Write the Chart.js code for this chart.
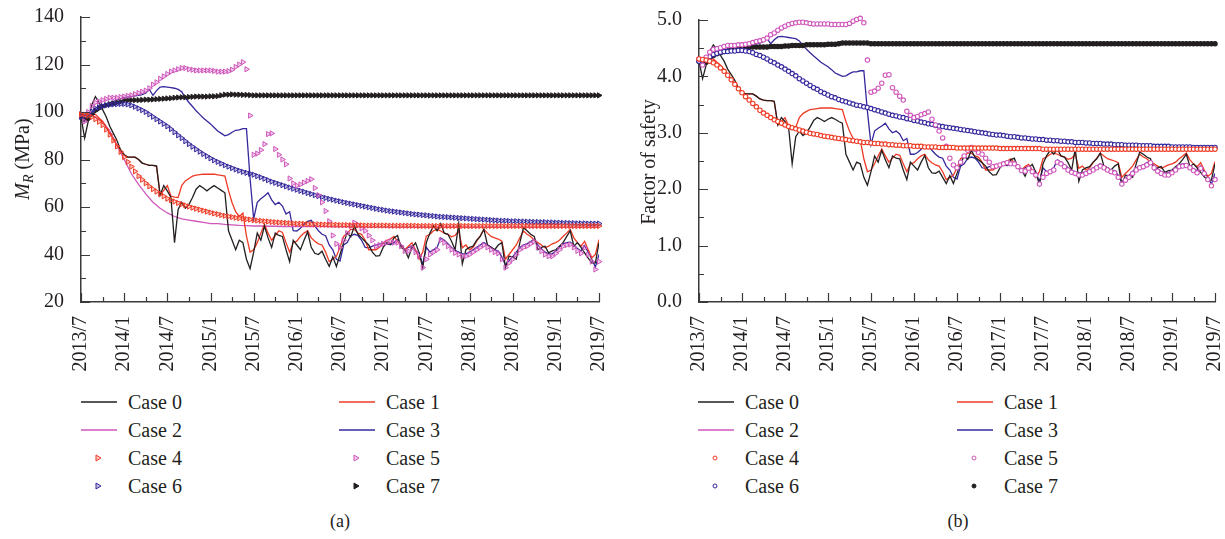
<!DOCTYPE html>
<html>
<head>
<meta charset="utf-8">
<script src="https://cdn.jsdelivr.net/npm/chart.js@4.4.1/dist/chart.umd.min.js"></script>
<style>
  html, body { margin: 0; padding: 0; background: #fff; }
  body { width: 1225px; height: 539px; position: relative; overflow: hidden; font-family: 'Liberation Serif', 'Times New Roman', serif; color: #231f20; }
  canvas.plot { position: absolute; top: 0; }
  .legend-item { position: absolute; height: 24px; display: flex; align-items: center; font-size: 20px; white-space: nowrap; }
  .legend-item canvas { margin-right: 11px; }
  .caption { position: absolute; top: 511px; width: 60px; text-align: center; font-size: 18px; }
</style>
</head>
<body>
<canvas id="chartA" class="plot" width="612" height="380" style="left:0px"></canvas>
<canvas id="chartB" class="plot" width="613" height="380" style="left:612px"></canvas>
<div class="caption" style="left:310px">(a)</div>
<div class="caption" style="left:928px">(b)</div>
<script>
// x positions in months, 0 = 2013/7 ... 72 = 2019/7
// case 2 is read monthly, everything else every half month
const months = Array.from({ length: 73 }, (_, i) => i);
const halfMonths = Array.from({ length: 145 }, (_, i) => i / 2);
const xTickLabels = ["2013/7", "2014/1", "2014/7", "2015/1", "2015/7", "2016/1", "2016/7",
  "2017/1", "2017/7", "2018/1", "2018/7", "2019/1", "2019/7"];
const caseNames = ["Case 0", "Case 1", "Case 2", "Case 3", "Case 4", "Case 5", "Case 6", "Case 7"];

// ---- panel (a): M_R (MPa) ----
const case0A = [
  98, 89, 96, 103, 106.5, 104, 101, 98, 94, 91, 88, 84,
  82, 81, 81, 81, 80, 78.5, 78, 77.5, 77.5, 77.3, 65, 69,
  66.8, 64, 45, 59, 62, 59.5, 61, 64, 67.5, 69, 68, 66.8,
  68, 69, 68, 67, 66, 50, 46, 42, 46, 45, 38, 34,
  41, 49, 46, 52, 47, 43, 49, 48, 47.6, 42, 37, 46,
  44, 42, 46, 49.5, 43, 40.5, 40, 41.4, 38, 35, 39, 35,
  40, 45, 49, 47.5, 52, 48.5, 47, 45.5, 44, 41, 39.3, 39.5,
  43, 45, 44.2, 47, 48, 43, 42, 38.6, 43, 44.9, 40.7, 34.4,
  45, 49, 52, 50, 53, 49, 48.5, 45.6, 42, 53, 36, 42,
  43, 43.5, 46, 47.6, 50.6, 44, 43, 42, 44, 45, 34.5, 39.3,
  39, 38, 45, 51.3, 50, 48.5, 47.6, 42, 43, 43.5, 40.7, 41.5,
  42, 43.5, 45, 47.5, 50, 43.5, 45, 43, 40.7, 38.5, 36.5, 36.5,
  45];
const case1A = [
  99, 98.5, 99, 99.5, 99, 97.5, 96, 93.5, 91, 88.5, 86, 84,
  82, 81, 81, 81, 80, 78.5, 78, 77.5, 77.5, 77, 65, 67,
  69, 64.6, 64.2, 64, 69, 71, 72, 73, 73.4, 73.6, 73.8, 73.8,
  73.8, 73.8, 73.5, 73.3, 73, 67, 61.8, 58, 56, 57.4, 47.7, 41,
  42, 45, 49, 52.7, 49, 46, 48, 50, 49.3, 45, 41, 45,
  45.6, 47.6, 49, 50, 47, 45.6, 44.5, 44, 41, 37, 38, 39.3,
  43, 47.6, 49, 50.6, 50.6, 49, 48.5, 46, 42, 42, 42, 43,
  44.9, 46, 46.5, 47.6, 45.6, 43.5, 42, 43.5, 44.9, 42, 38, 41,
  47.7, 48.5, 50, 50.6, 49.9, 49, 48.5, 47.5, 48, 49.9, 42.8, 44,
  42, 43, 45.6, 48, 50.6, 49, 47.6, 47, 46.5, 45.6, 38, 40,
  42, 44, 47, 49.9, 48.5, 47.6, 46, 45, 44, 42.8, 43.5, 44.5,
  45, 46, 47.6, 49, 50.6, 47, 45, 43.5, 45.6, 42, 38.6, 40,
  46.3];
const case2A = [99, 99, 98, 96, 92, 86, 80, 74, 69.5, 65.5, 62, 59.5, 57.5, 56, 55, 54.5, 54, 53.5, 53, 53, 52.7, 52.5, 52.3, 52.2, 52,
  52, 51.9, 51.9, 51.8, 51.8, 51.8, 51.7, 51.7, 51.7, 51.7, 51.6, 51.6, 51.6, 51.6, 51.6, 51.5, 51.5, 51.5, 51.5, 51.5, 51.5, 51.5, 51.5,
  51.5, 51.5, 51.5, 51.5, 51.5, 51.5, 51.5, 51.5, 51.5, 51.5, 51.5, 51.5, 51.5, 51.5, 51.5, 51.5, 51.5, 51.5, 51.5, 51.5, 51.5, 51.5, 51.5, 51.5, 51.5];
const case3A = [
  99, 96, 98.5, 100, 101.5, 102.5, 103, 103.5, 104, 104.5, 105, 105.5,
  106, 106.3, 106.5, 106.8, 107, 107.3, 108, 109.5, 107, 109, 110.5, 110.7,
  110.5, 110.3, 110, 109.5, 108.5, 106, 104, 102.3, 100.5, 99, 97.5, 96.2,
  95, 93.5, 92, 91, 90, 90.5, 91.5, 92.3, 92.5, 93, 93, 72,
  55, 62, 63.5, 64.6, 66, 63, 61, 62, 60.4, 57, 58, 50,
  49.9, 51, 52.7, 54, 54.4, 52, 50, 48.5, 47.9, 44, 42, 38,
  37.2, 44, 45, 47.9, 48.5, 48, 46, 43, 42.8, 43.5, 44, 44.5,
  44.9, 44.5, 44.2, 45, 46.3, 44, 42, 43, 43.5, 41.5, 40.7, 35.8,
  43, 41, 42, 43, 47, 46, 44.5, 43, 41.7, 41, 40.3, 40.3,
  41, 42, 43, 44, 45, 44, 43, 42, 41.5, 39, 35.5, 37.5,
  39, 41, 43, 44, 44.5, 45.5, 46.5, 44, 42.4, 41, 40.3, 40.3,
  41.5, 43, 44.5, 45, 45.2, 44, 42.5, 41.5, 43.8, 41, 38, 34.7,
  40];
const case4A = [
  99, 98.9, 98.5, 97.9, 97, 95.9, 94.5, 92.6, 90.5, 88, 85.5, 83.2,
  81, 79, 77, 75, 73, 71.5, 70, 68.7, 67.5, 66.5, 65.5, 64.5,
  63.5, 62.9, 62.3, 61.7, 61.2, 60.7, 60.2, 59.7, 59.3, 58.9, 58.5, 58.1,
  57.7, 57.3, 57, 56.6, 56.3, 56, 55.8, 55.5, 55.3, 55.1, 54.9, 54.7,
  54.5, 54.3, 54.2, 54, 53.9, 53.7, 53.6, 53.5, 53.4, 53.3, 53.2, 53.1,
  53, 53, 52.9, 52.8, 52.8, 52.7, 52.7, 52.6, 52.6, 52.5, 52.5, 52.5,
  52.4, 52.4, 52.4, 52.3, 52.3, 52.3, 52.3, 52.2, 52.2, 52.2, 52.2, 52.2,
  52.2, 52.2, 52.1, 52.1, 52.1, 52.1, 52.1, 52.1, 52.1, 52.1, 52, 52,
  52, 52, 52, 52, 52, 52, 52, 52, 52, 52, 52, 52,
  52, 52, 52, 52, 52, 52, 52, 52, 52, 52, 52, 52,
  52, 52, 52, 52, 52, 52, 52, 52, 52, 52, 52, 52,
  52, 52, 52, 52, 52, 52, 52, 52, 52, 52, 52, 52,
  52];
const case5A = [
  99, 96, 100, 102.5, 104, 104.5, 105, 105.5, 106, 106, 106, 106.3,
  106.5, 106.8, 107, 107.5, 108, 108.5, 109, 110, 111.5, 112.5, 114, 115,
  116, 117, 117.5, 118, 118.5, 118.5, 118, 117.8, 117.5, 117.5, 117.5, 117.5,
  117.5, 117.3, 117, 117, 117, 117.2, 117.8, 119, 120, 121, 118, 98.5,
  82, 82.5, 84, 86.5, 90.7, 91, 84.4, 82, 80, 78, 72, 70,
  69, 69.5, 70.3, 71, 71.7, 68, 65, 62, 58.3, 54, 48, 44.5,
  43, 46, 49, 52, 53.4, 52.5, 51, 50, 48, 46, 43.5, 44,
  44.5, 45, 45.5, 45, 45, 43.5, 41.5, 41.4, 42.8, 41, 39.3, 34.5,
  38, 40, 41, 42, 46, 45, 43.5, 42, 40.7, 40, 39.3, 39.3,
  40, 41, 42, 43, 44, 43, 42, 41, 40.5, 38, 34.5, 36.5,
  38, 40, 42, 43, 43.5, 44.5, 45.5, 43, 41.4, 40, 39.3, 39.3,
  40.5, 42, 43.5, 44, 44.2, 43, 41.5, 40.5, 42.8, 40, 37, 33.7,
  37];
const case6A = [
  98, 98.3, 99, 100.3, 101.5, 102, 102.5, 102.8, 103, 103.2, 103.3, 103.4,
  103.4, 103.2, 102.8, 102.2, 101.5, 100.8, 100, 99, 98, 97, 96, 95,
  94, 92.8, 91.5, 90.2, 89, 87.7, 86.5, 85.4, 84.3, 83.3, 82.3, 81.4,
  80.5, 79.7, 79, 78.3, 77.6, 77, 76.4, 75.8, 75.3, 74.8, 74.4, 74,
  73.6, 73, 72.5, 71.9, 71.3, 70.7, 70.2, 69.7, 69.2, 68.7, 68.2, 67.7,
  67.3, 66.8, 66.4, 65.9, 65.5, 65, 64.6, 64.2, 63.8, 63.4, 63.1, 62.7,
  62.4, 62, 61.7, 61.4, 61.1, 60.8, 60.5, 60.2, 59.9, 59.6, 59.3, 59,
  58.8, 58.5, 58.3, 58.1, 57.9, 57.7, 57.5, 57.3, 57.1, 56.9, 56.8, 56.6,
  56.5, 56.3, 56.2, 56, 55.9, 55.8, 55.7, 55.6, 55.5, 55.4, 55.3, 55.2,
  55.1, 55, 54.9, 54.8, 54.7, 54.6, 54.5, 54.4, 54.3, 54.2, 54.2, 54.1,
  54, 54, 53.9, 53.9, 53.8, 53.8, 53.7, 53.7, 53.6, 53.6, 53.5, 53.5,
  53.4, 53.4, 53.3, 53.3, 53.2, 53.2, 53.1, 53.1, 53.1, 53, 53, 53,
  53];
const case7A = [
  98.5, 97, 97, 99, 100.5, 101.5, 102.3, 102.8, 103.3, 103.6, 104, 104.3,
  105, 105, 105, 105, 105, 105.1, 105.2, 105.2, 105.3, 105.4, 105.5, 105.6,
  105.7, 105.8, 106, 106.1, 106.2, 106.2, 106.3, 106.4, 106.5, 106.5, 106.5, 106.5,
  106.6, 106.6, 106.7, 107, 107.3, 107.3, 107.4, 107.3, 107.3, 107.2, 107.2, 107.1,
  107, 107, 107, 107, 107, 107, 107, 107, 107, 107, 107, 107,
  107, 107, 107, 107, 107, 107, 107, 107, 107, 107, 107, 107,
  107, 107, 107, 107, 107, 107, 107, 107, 107, 107, 107, 107,
  107, 107, 107, 107, 107, 107, 107, 107, 107, 107, 107, 107,
  107, 107, 107, 107, 107, 107, 107, 107, 107, 107, 107, 107,
  107, 107, 107, 107, 107, 107, 107, 107, 107, 107, 107, 107,
  107, 107, 107, 107, 107, 107, 107, 107, 107, 107, 107, 107,
  107, 107, 107, 107, 107, 107, 107, 107, 107, 107, 107, 107,
  107];

// ---- panel (b): factor of safety ----
const case0B = [
  4.27, 3.96, 4.20, 4.44, 4.56, 4.48, 4.37, 4.27, 4.13, 4.03, 3.93, 3.79,
  3.72, 3.69, 3.69, 3.69, 3.65, 3.60, 3.58, 3.57, 3.57, 3.56, 3.14, 3.27,
  3.20, 3.10, 2.45, 2.93, 3.03, 2.95, 3.00, 3.10, 3.22, 3.27, 3.24, 3.20,
  3.24, 3.27, 3.24, 3.20, 3.17, 2.62, 2.48, 2.34, 2.48, 2.45, 2.21, 2.07,
  2.31, 2.59, 2.48, 2.69, 2.52, 2.38, 2.59, 2.55, 2.54, 2.34, 2.17, 2.48,
  2.41, 2.34, 2.48, 2.60, 2.38, 2.29, 2.28, 2.32, 2.21, 2.10, 2.24, 2.10,
  2.28, 2.45, 2.59, 2.53, 2.69, 2.57, 2.52, 2.47, 2.41, 2.31, 2.25, 2.26,
  2.38, 2.45, 2.42, 2.52, 2.55, 2.38, 2.34, 2.23, 2.38, 2.44, 2.30, 2.08,
  2.45, 2.59, 2.69, 2.62, 2.72, 2.59, 2.57, 2.47, 2.34, 2.72, 2.14, 2.34,
  2.38, 2.40, 2.48, 2.54, 2.64, 2.41, 2.38, 2.34, 2.41, 2.45, 2.09, 2.25,
  2.24, 2.21, 2.45, 2.66, 2.62, 2.57, 2.54, 2.34, 2.38, 2.40, 2.30, 2.33,
  2.34, 2.40, 2.45, 2.53, 2.62, 2.40, 2.45, 2.38, 2.30, 2.22, 2.16, 2.16,
  2.45];
const case1B = [
  4.31, 4.29, 4.31, 4.32, 4.31, 4.25, 4.20, 4.12, 4.03, 3.94, 3.86, 3.79,
  3.72, 3.69, 3.69, 3.69, 3.65, 3.60, 3.58, 3.57, 3.57, 3.55, 3.14, 3.20,
  3.27, 3.12, 3.11, 3.10, 3.27, 3.34, 3.38, 3.41, 3.42, 3.43, 3.44, 3.44,
  3.44, 3.44, 3.43, 3.42, 3.41, 3.20, 3.03, 2.90, 2.83, 2.87, 2.54, 2.31,
  2.34, 2.45, 2.59, 2.71, 2.59, 2.48, 2.55, 2.62, 2.60, 2.45, 2.31, 2.45,
  2.47, 2.54, 2.59, 2.62, 2.52, 2.47, 2.43, 2.41, 2.31, 2.17, 2.21, 2.25,
  2.38, 2.54, 2.59, 2.64, 2.64, 2.59, 2.57, 2.48, 2.34, 2.34, 2.34, 2.38,
  2.44, 2.48, 2.50, 2.54, 2.47, 2.40, 2.34, 2.40, 2.44, 2.34, 2.21, 2.31,
  2.54, 2.57, 2.62, 2.64, 2.62, 2.59, 2.57, 2.53, 2.55, 2.62, 2.37, 2.41,
  2.34, 2.38, 2.47, 2.55, 2.64, 2.59, 2.54, 2.52, 2.50, 2.47, 2.21, 2.28,
  2.34, 2.41, 2.52, 2.62, 2.57, 2.54, 2.48, 2.45, 2.41, 2.37, 2.40, 2.43,
  2.45, 2.48, 2.54, 2.59, 2.64, 2.52, 2.45, 2.40, 2.47, 2.34, 2.23, 2.28,
  2.49];
const case2B = [4.31, 4.29, 4.24, 4.15, 4.02, 3.86, 3.71, 3.58, 3.46, 3.35, 3.27, 3.20, 3.14, 3.09, 3.05, 3.01, 2.98, 2.95, 2.93, 2.91, 2.89, 2.87, 2.85, 2.83, 2.82,
  2.81, 2.80, 2.79, 2.78, 2.77, 2.76, 2.76, 2.75, 2.75, 2.74, 2.74, 2.73, 2.73, 2.73, 2.73, 2.73, 2.73, 2.72, 2.72, 2.72, 2.72, 2.72, 2.72,
  2.71, 2.71, 2.71, 2.71, 2.71, 2.71, 2.71, 2.71, 2.71, 2.71, 2.71, 2.71, 2.71, 2.71, 2.71, 2.71, 2.71, 2.71, 2.71, 2.71, 2.71, 2.71, 2.71, 2.71, 2.71];
const case3B = [
  4.31, 4.20, 4.29, 4.34, 4.39, 4.43, 4.44, 4.46, 4.48, 4.49, 4.51, 4.53,
  4.55, 4.56, 4.56, 4.57, 4.58, 4.59, 4.62, 4.67, 4.58, 4.65, 4.70, 4.71,
  4.70, 4.69, 4.68, 4.67, 4.63, 4.55, 4.48, 4.42, 4.36, 4.31, 4.25, 4.21,
  4.17, 4.12, 4.06, 4.03, 4.00, 4.01, 4.05, 4.08, 4.08, 4.10, 4.10, 3.38,
  2.79, 3.03, 3.08, 3.12, 3.17, 3.07, 3.00, 3.03, 2.98, 2.86, 2.90, 2.62,
  2.62, 2.65, 2.71, 2.76, 2.77, 2.69, 2.62, 2.57, 2.55, 2.41, 2.34, 2.21,
  2.18, 2.41, 2.45, 2.55, 2.57, 2.55, 2.48, 2.38, 2.37, 2.40, 2.41, 2.43,
  2.44, 2.43, 2.42, 2.45, 2.49, 2.41, 2.34, 2.38, 2.40, 2.33, 2.30, 2.13,
  2.38, 2.31, 2.34, 2.38, 2.52, 2.48, 2.43, 2.38, 2.33, 2.31, 2.29, 2.29,
  2.31, 2.34, 2.38, 2.41, 2.45, 2.41, 2.38, 2.34, 2.33, 2.24, 2.12, 2.19,
  2.24, 2.31, 2.38, 2.41, 2.43, 2.47, 2.50, 2.41, 2.36, 2.31, 2.29, 2.29,
  2.33, 2.38, 2.43, 2.45, 2.45, 2.41, 2.36, 2.33, 2.41, 2.31, 2.21, 2.09,
  2.28];
const case4B = [
  4.31, 4.30, 4.29, 4.27, 4.24, 4.20, 4.15, 4.09, 4.02, 3.94, 3.86, 3.78,
  3.71, 3.64, 3.58, 3.52, 3.46, 3.40, 3.35, 3.31, 3.27, 3.23, 3.20, 3.17,
  3.14, 3.11, 3.09, 3.07, 3.05, 3.03, 3.01, 2.99, 2.98, 2.97, 2.95, 2.94,
  2.93, 2.92, 2.91, 2.90, 2.89, 2.88, 2.87, 2.86, 2.85, 2.84, 2.83, 2.83,
  2.82, 2.81, 2.81, 2.80, 2.80, 2.79, 2.79, 2.78, 2.78, 2.77, 2.77, 2.77,
  2.76, 2.76, 2.76, 2.75, 2.75, 2.75, 2.75, 2.74, 2.74, 2.74, 2.74, 2.74,
  2.73, 2.73, 2.73, 2.73, 2.73, 2.73, 2.73, 2.73, 2.73, 2.73, 2.73, 2.73,
  2.72, 2.72, 2.72, 2.72, 2.72, 2.72, 2.72, 2.72, 2.72, 2.72, 2.72, 2.72,
  2.71, 2.71, 2.71, 2.71, 2.71, 2.71, 2.71, 2.71, 2.71, 2.71, 2.71, 2.71,
  2.71, 2.71, 2.71, 2.71, 2.71, 2.71, 2.71, 2.71, 2.71, 2.71, 2.71, 2.71,
  2.71, 2.71, 2.71, 2.71, 2.71, 2.71, 2.71, 2.71, 2.71, 2.71, 2.71, 2.71,
  2.71, 2.71, 2.71, 2.71, 2.71, 2.71, 2.71, 2.71, 2.71, 2.71, 2.71, 2.71,
  2.71];
const case5B = [
  4.31, 4.20, 4.34, 4.43, 4.48, 4.49, 4.51, 4.53, 4.55, 4.55, 4.55, 4.56,
  4.56, 4.57, 4.58, 4.60, 4.62, 4.63, 4.65, 4.68, 4.74, 4.77, 4.82, 4.86,
  4.89, 4.92, 4.94, 4.95, 4.96, 4.96, 4.95, 4.94, 4.93, 4.93, 4.93, 4.93,
  4.93, 4.92, 4.92, 4.92, 4.92, 4.92, 4.94, 4.98, 5.01, 5.03, 4.95, 4.29,
  3.72, 3.74, 3.79, 3.88, 4.02, 4.03, 3.80, 3.72, 3.65, 3.58, 3.38, 3.31,
  3.27, 3.29, 3.32, 3.34, 3.37, 3.24, 3.14, 3.03, 2.91, 2.76, 2.55, 2.43,
  2.38, 2.48, 2.59, 2.69, 2.74, 2.71, 2.65, 2.62, 2.55, 2.48, 2.40, 2.41,
  2.43, 2.45, 2.47, 2.45, 2.45, 2.40, 2.33, 2.32, 2.37, 2.31, 2.25, 2.09,
  2.21, 2.28, 2.31, 2.34, 2.48, 2.45, 2.40, 2.34, 2.30, 2.28, 2.25, 2.25,
  2.28, 2.31, 2.34, 2.38, 2.41, 2.38, 2.34, 2.31, 2.29, 2.21, 2.09, 2.16,
  2.21, 2.28, 2.34, 2.38, 2.40, 2.43, 2.47, 2.38, 2.32, 2.28, 2.25, 2.25,
  2.29, 2.34, 2.40, 2.41, 2.42, 2.38, 2.33, 2.29, 2.37, 2.28, 2.17, 2.06,
  2.17];
const case6B = [
  4.27, 4.28, 4.31, 4.35, 4.39, 4.41, 4.43, 4.44, 4.44, 4.45, 4.45, 4.46,
  4.46, 4.45, 4.44, 4.42, 4.39, 4.37, 4.34, 4.31, 4.27, 4.24, 4.20, 4.17,
  4.13, 4.09, 4.05, 4.01, 3.96, 3.92, 3.88, 3.84, 3.80, 3.77, 3.73, 3.70,
  3.67, 3.64, 3.62, 3.59, 3.57, 3.55, 3.53, 3.51, 3.49, 3.48, 3.46, 3.45,
  3.43, 3.41, 3.39, 3.37, 3.35, 3.33, 3.31, 3.30, 3.28, 3.27, 3.25, 3.24,
  3.22, 3.21, 3.19, 3.18, 3.16, 3.15, 3.13, 3.12, 3.11, 3.10, 3.09, 3.08,
  3.07, 3.06, 3.05, 3.04, 3.03, 3.02, 3.01, 3.00, 2.99, 2.98, 2.97, 2.96,
  2.96, 2.95, 2.94, 2.93, 2.93, 2.92, 2.91, 2.91, 2.90, 2.89, 2.89, 2.88,
  2.88, 2.87, 2.87, 2.86, 2.86, 2.85, 2.85, 2.84, 2.84, 2.83, 2.83, 2.83,
  2.82, 2.82, 2.81, 2.81, 2.81, 2.80, 2.80, 2.80, 2.79, 2.79, 2.79, 2.78,
  2.78, 2.78, 2.78, 2.77, 2.77, 2.77, 2.77, 2.76, 2.76, 2.76, 2.76, 2.76,
  2.75, 2.75, 2.75, 2.75, 2.75, 2.75, 2.74, 2.74, 2.74, 2.74, 2.74, 2.74,
  2.74];
const case7B = [
  4.27, 4.22, 4.25, 4.33, 4.37, 4.40, 4.42, 4.44, 4.45, 4.47, 4.48, 4.49,
  4.51, 4.51, 4.52, 4.52, 4.52, 4.52, 4.52, 4.52, 4.53, 4.53, 4.53, 4.53,
  4.54, 4.54, 4.55, 4.55, 4.55, 4.55, 4.56, 4.56, 4.56, 4.56, 4.56, 4.56,
  4.57, 4.57, 4.57, 4.58, 4.59, 4.59, 4.59, 4.59, 4.59, 4.59, 4.59, 4.59,
  4.58, 4.58, 4.58, 4.58, 4.58, 4.58, 4.58, 4.58, 4.58, 4.58, 4.58, 4.58,
  4.58, 4.58, 4.58, 4.58, 4.58, 4.58, 4.58, 4.58, 4.58, 4.58, 4.58, 4.58,
  4.58, 4.58, 4.58, 4.58, 4.58, 4.58, 4.58, 4.58, 4.58, 4.58, 4.58, 4.58,
  4.58, 4.58, 4.58, 4.58, 4.58, 4.58, 4.58, 4.58, 4.58, 4.58, 4.58, 4.58,
  4.58, 4.58, 4.58, 4.58, 4.58, 4.58, 4.58, 4.58, 4.58, 4.58, 4.58, 4.58,
  4.58, 4.58, 4.58, 4.58, 4.58, 4.58, 4.58, 4.58, 4.58, 4.58, 4.58, 4.58,
  4.58, 4.58, 4.58, 4.58, 4.58, 4.58, 4.58, 4.58, 4.58, 4.58, 4.58, 4.58,
  4.58, 4.58, 4.58, 4.58, 4.58, 4.58, 4.58, 4.58, 4.58, 4.58, 4.58, 4.58,
  4.58];

const BLACK = "#231f20", RED = "#ee3a24", PINK = "#cf57bb", BLUE = "#35289c";
const FONT = "'Liberation Serif', 'Times New Roman', serif";

const toPoints = (xs, ys) => xs.map((x, i) => ({ x, y: ys[i] }));

function lineSet(label, data, color) {
  const xs = data.length === months.length ? months : halfMonths;
  return { label, data: toPoints(xs, data), borderColor: color, backgroundColor: color,
    borderWidth: 1.3, pointRadius: 0, tension: 0, order: 1 };
}

function markerSet(label, data, color, fill, style) {
  const tri = style === "triangle";
  return { label, data: toPoints(halfMonths, data), showLine: false, clip: false,
    borderColor: color, backgroundColor: fill,
    pointStyle: style, pointRotation: tri ? 90 : 0, pointRadius: tri ? 3 : 2.2,
    pointBorderWidth: tri ? 1 : 1.1, pointBorderColor: color, pointBackgroundColor: fill, order: 0 };
}

// inward tick marks + rotated y title
function makeDecor(cfg) {
  return {
    id: "decor",
    afterDraw(chart) {
      const { ctx, chartArea: a, scales: { x, y } } = chart;
      ctx.save();
      ctx.strokeStyle = "#3a3a3a";
      ctx.lineWidth = 1.2;
      ctx.beginPath();
      for (let m = 0; m <= 72; m += 3) {
        const px = Math.round(x.getPixelForValue(m)) + 0.5;
        ctx.moveTo(px, a.bottom);
        ctx.lineTo(px, a.bottom - (m % 6 === 0 ? 9 : 5));
      }
      const n = Math.round((cfg.yMax - cfg.yMin) / cfg.yMinor);
      for (let i = 0; i <= n; i++) {
        const py = Math.round(y.getPixelForValue(cfg.yMin + i * cfg.yMinor)) + 0.5;
        ctx.moveTo(a.left, py);
        ctx.lineTo(a.left + (i % 2 === 0 ? 9 : 5), py);
      }
      ctx.stroke();

      ctx.translate(cfg.titleX, cfg.titleY);
      ctx.rotate(-Math.PI / 2);
      ctx.fillStyle = BLACK;
      ctx.textBaseline = "alphabetic";
      let w = 0;
      cfg.title.forEach(p => { ctx.font = p.font; w += ctx.measureText(p.text).width; });
      let cx = -w / 2;
      cfg.title.forEach(p => {
        ctx.font = p.font;
        ctx.fillText(p.text, cx, 7 + (p.shift || 0));
        cx += ctx.measureText(p.text).width;
      });
      ctx.restore();
    }
  };
}

function makeChart(id, sets, cfg) {
  const tri = cfg.style === "triangle";
  const datasets = [
    lineSet(caseNames[0], sets[0], BLACK),
    lineSet(caseNames[1], sets[1], RED),
    lineSet(caseNames[2], sets[2], PINK),
    lineSet(caseNames[3], sets[3], BLUE),
    markerSet(caseNames[4], sets[4], RED, tri ? "rgba(238,58,36,0.3)" : "#fff", cfg.style),
    markerSet(caseNames[5], sets[5], PINK, tri ? "rgba(207,87,187,0.3)" : "#fff", cfg.style),
    markerSet(caseNames[6], sets[6], BLUE, tri ? "rgba(53,40,156,0.3)" : "#fff", cfg.style),
    markerSet(caseNames[7], sets[7], BLACK, BLACK, cfg.style)
  ];
  const tickFont = { family: FONT, size: 20 };
  return new Chart(document.getElementById(id), {
    type: "line",
    data: { datasets },
    options: {
      responsive: false,
      animation: false,
      devicePixelRatio: 1,
      layout: { padding: cfg.padding },
      plugins: { legend: { display: false }, tooltip: { enabled: false } },
      scales: {
        x: {
          type: "linear", min: 0, max: 72,
          grid: { display: false },
          border: { display: true, color: "#3a3a3a", width: 1.5 },
          ticks: { stepSize: 6, autoSkip: false, maxRotation: 90, minRotation: 90, padding: 6,
            color: BLACK, font: tickFont, callback: v => xTickLabels[v / 6] },
          afterFit: s => { s.height = 78; s.paddingLeft = 0; s.paddingRight = 0; }
        },
        y: {
          min: cfg.yMin, max: cfg.yMax,
          grid: { display: false },
          border: { display: true, color: "#3a3a3a", width: 1.5 },
          ticks: { stepSize: cfg.yStep, padding: 9, color: BLACK, font: tickFont, callback: cfg.yLabel },
          afterFit: s => { s.width = cfg.yWidth; s.paddingTop = 0; s.paddingBottom = 0; }
        }
      }
    },
    plugins: [makeDecor(cfg)]
  });
}

function buildLegend(chart, left, colGap, top) {
  chart.data.datasets.forEach((ds, i) => {
    const item = document.createElement("div");
    item.className = "legend-item";
    item.style.left = left + (i % 2) * colGap + "px";
    item.style.top = top + Math.floor(i / 2) * 28 - 12 + "px";
    const sw = document.createElement("canvas");
    sw.width = 36; sw.height = 12;
    const c = sw.getContext("2d");
    if (ds.showLine === false) {
      c.fillStyle = ds.pointBackgroundColor;
      c.strokeStyle = ds.pointBorderColor;
      c.lineWidth = 1;
      c.beginPath();
      if (ds.pointStyle === "triangle") { c.moveTo(20, 6); c.lineTo(15, 3); c.lineTo(15, 9); c.closePath(); }
      else c.arc(17, 6, 2, 0, 2 * Math.PI);
      c.fill(); c.stroke();
    } else {
      c.strokeStyle = ds.borderColor;
      c.lineWidth = 1.6;
      c.beginPath(); c.moveTo(0, 6); c.lineTo(36, 6); c.stroke();
    }
    const t = document.createElement("span");
    t.textContent = ds.label;
    item.append(sw, t);
    document.body.appendChild(item);
  });
}

const chartA = makeChart("chartA", [case0A, case1A, case2A, case3A, case4A, case5A, case6A, case7A], {
  style: "triangle", yMin: 20, yMax: 140, yStep: 20, yMinor: 10, yWidth: 81,
  padding: { left: 0, right: 13, top: 17, bottom: 0 },
  yLabel: v => v,
  titleX: 22, titleY: 159,
  title: [
    { text: "M", font: "italic 20px " + FONT },
    { text: "R", font: "italic 14px " + FONT, shift: 4 },
    { text: " (MPa)", font: "20px " + FONT }
  ]
});

const chartB = makeChart("chartB", [case0B, case1B, case2B, case3B, case4B, case5B, case6B, case7B], {
  style: "circle", yMin: 0, yMax: 5, yStep: 1, yMinor: 0.5, yWidth: 87,
  padding: { left: 0, right: 10, top: 20, bottom: 0 },
  yLabel: v => v.toFixed(1),
  titleX: 36, titleY: 162,
  title: [{ text: "Factor of safety", font: "20px " + FONT }]
});

buildLegend(chartA, 81, 258, 402);
buildLegend(chartB, 698, 259, 402);
</script>
</body>
</html>
